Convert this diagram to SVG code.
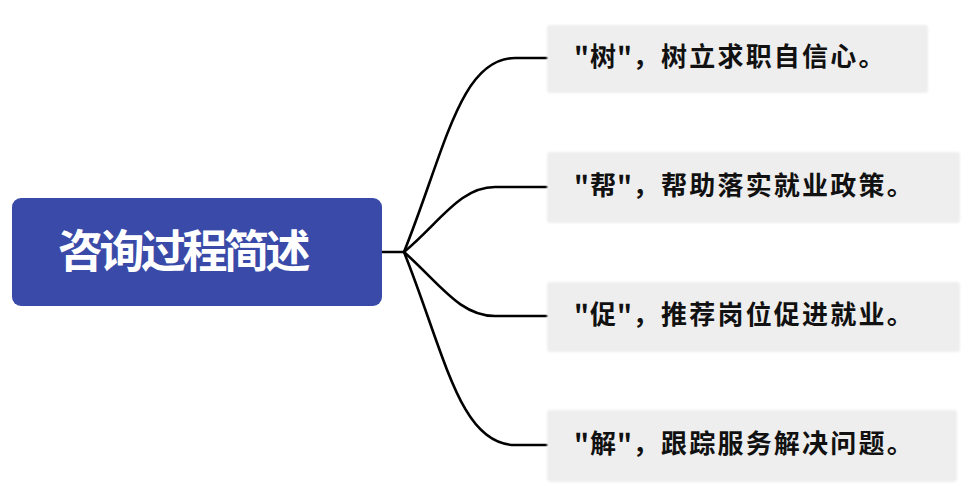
<svg xmlns="http://www.w3.org/2000/svg" width="975" height="503" viewBox="0 0 975 503">
<style>
.main{fill:#3a4aa8}
.title{font-family:"Noto Sans CJK SC","Noto Sans",sans-serif;font-weight:700;font-size:45px;fill:#ffffff;letter-spacing:-3.5px}
.leaf{fill:#eeeeee;filter:url(#soft)}
.lt{font-family:"Noto Sans CJK SC","Noto Sans",sans-serif;font-weight:700;font-size:26px;fill:#111111;letter-spacing:2.2px}
.q{letter-spacing:1px}
.conn{fill:none;stroke:#000000;stroke-width:2.6;stroke-linecap:round}
</style>
<defs>
<filter id="soft" x="-5%" y="-10%" width="110%" height="120%">
<feGaussianBlur stdDeviation="1.2"/>
</filter>
</defs>
<rect width="975" height="503" fill="#ffffff"/>
<g id="connectors">
<path class="conn" d="M382 252 L404 252"/>
<path class="conn" d="M404 252 C445 150 460 58 515 58 L547 58"/>
<path class="conn" d="M404 252 C440 222 460 187 495 187 L547 187"/>
<path class="conn" d="M404 252 C440 284 460 316 495 316 L547 316"/>
<path class="conn" d="M404 252 C445 355 460 445 515 445 L547 445"/>
</g>
<g id="root">
<rect class="main" x="12" y="198" width="370" height="108" rx="9"/>
<text class="title" x="58" y="268">咨询过程简述</text>
</g>
<g id="n1">
<rect class="leaf" x="547" y="25" width="381" height="68" rx="3"/>
<text class="lt" x="574" y="66"><tspan class="q">"树"</tspan>，树立求职自信心。</text>
</g>
<g id="n2">
<rect class="leaf" x="547" y="152" width="413" height="71" rx="3"/>
<text class="lt" x="574" y="195"><tspan class="q">"帮"</tspan>，帮助落实就业政策。</text>
</g>
<g id="n3">
<rect class="leaf" x="547" y="282" width="413" height="70" rx="3"/>
<text class="lt" x="574" y="324"><tspan class="q">"促"</tspan>，推荐岗位促进就业。</text>
</g>
<g id="n4">
<rect class="leaf" x="547" y="410" width="410" height="72" rx="3"/>
<text class="lt" x="574" y="453"><tspan class="q">"解"</tspan>，跟踪服务解决问题。</text>
</g>
</svg>
